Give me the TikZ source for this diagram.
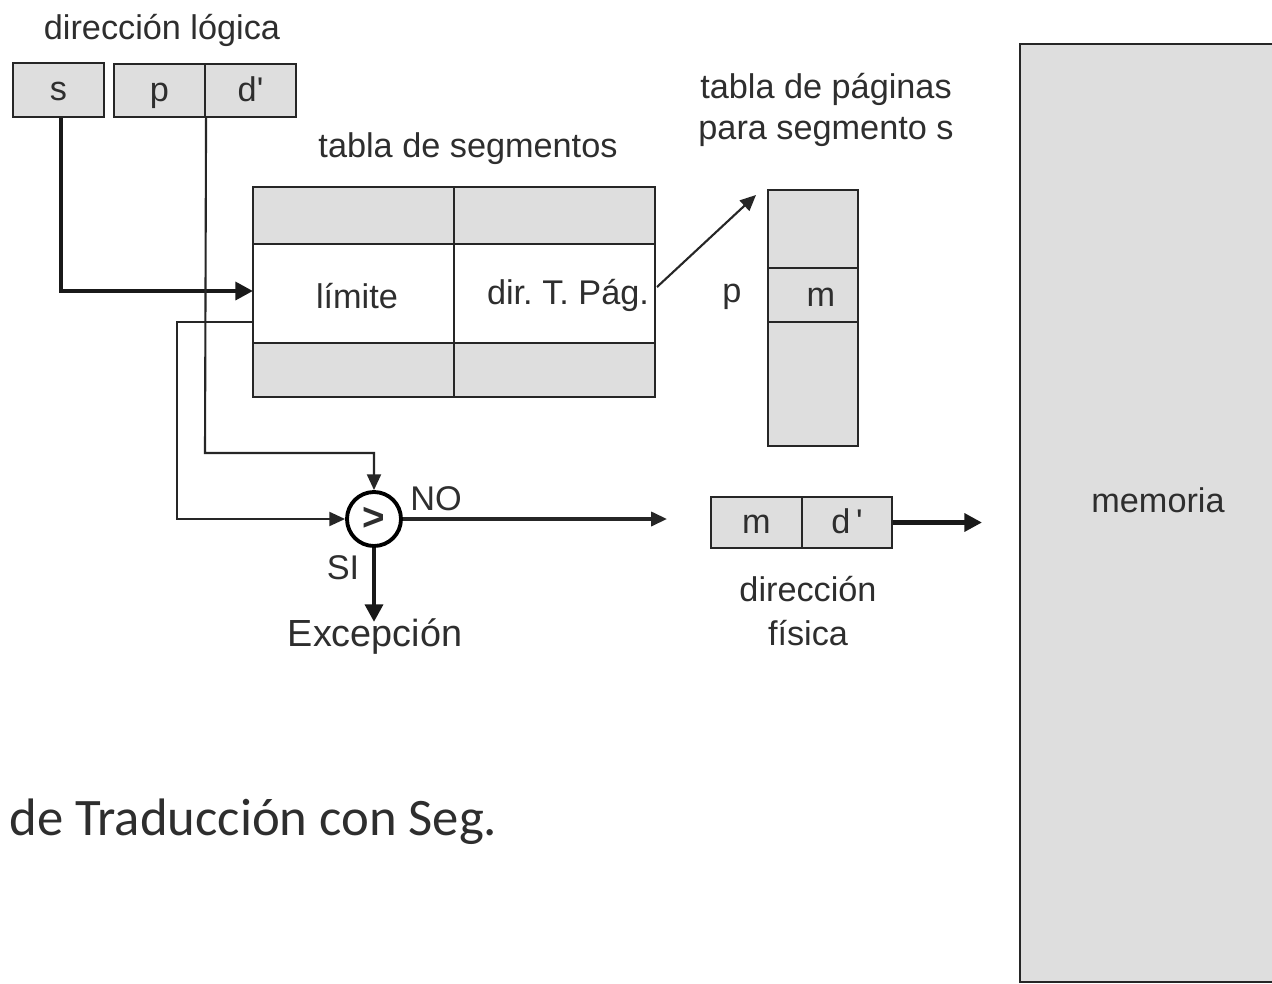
\documentclass[tikz,border=0pt]{standalone}
\usepackage{fontspec}
\setmainfont{Liberation Sans}[Ligatures=TeXOff]
\newfontfamily\calib{Carlito}
\usetikzlibrary{arrows.meta}
\definecolor{cellgray}{HTML}{DEDEDE}
\definecolor{txt}{HTML}{2E2E2E}
\tikzset{
  cell/.style={draw=black!85,line width=1.2pt,fill=cellgray,text=txt,inner sep=0pt,text height=12.6pt,text depth=0.6pt,font=\fontsize{19.5}{22}\selectfont},
  lbl/.style={text=txt,inner sep=0pt,font=\fontsize{19.5}{22}\selectfont,align=center},
  thin/.style={draw=black!85,line width=1.2pt,-{Triangle[length=9pt,width=8pt]}},
  thick/.style={draw=black!90,line width=2.6pt,-{Triangle[length=10pt,width=10pt]}},
}
\begin{document}
\frenchspacing
\begin{tikzpicture}[x=0.02cm,y=-0.02cm]
\clip (0,0) rectangle (1272,984);
\fill[white] (0,0) rectangle (1272,984);
% logical address
\node[lbl] (dl) at (162,30) {dirección lógica};
\node[cell,minimum width=91*0.02cm,minimum height=54*0.02cm] (s) at (58.5,90) {s};
\node[cell,minimum width=91*0.02cm,minimum height=53*0.02cm] (p) at (159.5,90.5) {p};
\node[cell,minimum width=91*0.02cm,minimum height=53*0.02cm] (d) at (250.5,90.5) {d'};
% segment table
\node[lbl] (tsl) at (468,149) {tabla de segmentos};
\draw[draw=black!85,line width=1.2pt,fill=cellgray] (253,187) rectangle (655,397);
\fill[white] (253,244) rectangle (655,343);
\draw[draw=black!85,line width=1.2pt] (253,187) rectangle (655,397);
\draw[draw=black!85,line width=1.2pt] (253,244) -- (655,244) (253,343) -- (655,343) (454,187) -- (454,397);
\node[lbl] (lim) at (357,296) {límite};
\node[lbl] (dtp) at (568,295) {dir. T. Pág.};
\coordinate (seg) at (253,291);
\coordinate (segL) at (253,322);
\coordinate (segR) at (657,287);
% page table
\node[lbl,align=center] (tpl) at (826,110) {tabla de páginas\\[1pt]para segmento s};
\draw[draw=black!85,line width=1.2pt,fill=cellgray] (768,190) rectangle (858,446);
\draw[draw=black!85,line width=1.2pt] (768,268) -- (858,268) (768,322) -- (858,322);
\node[lbl] (pm) at (821,297) {m};
\node[lbl] (pp) at (732,297) {p};
\coordinate (pt) at (756,195);
\draw[thin] (segR) -- (pt);
% comparator
\node[circle,draw=black,line width=2.2pt,minimum size=54*0.02cm,inner sep=0pt,text=txt,font=\fontsize{22}{22}\selectfont\bfseries] (cmp) at (374,519) {>};
\coordinate (a1) at (61,291);
\draw[thick] (s.south -| a1) -- (a1) -- (seg);
\draw[thin] (segL) -- (177,322) -- (177,519) -- (cmp.west);
\draw[thin] (p.south east) -- (205,453) -- (374,453) -- (cmp.north);
\node[lbl] (no) at (436,499) {NO};
\node[lbl] (si) at (343,568) {SI};
\node[lbl,font=\fontsize{21.5}{22}\selectfont] (exc) at (375,637) {Excepción};
\draw[thick] (cmp.south) -- (374,622);
% physical address
\node[cell,minimum width=91*0.02cm,minimum height=51*0.02cm] (fm) at (756.5,522.5) {m};
\node[cell,minimum width=90*0.02cm,minimum height=51*0.02cm] (fd) at (847,522.5) {d\,'};
\coordinate (na) at (667,519);
\draw[thin,line width=1.8pt] (cmp.east) -- (na);
\node[lbl] (df) at (808,611) {dirección\\[3pt]física};
\coordinate (mem) at (982,522.5);
\draw[thick] (fd.east) -- (mem);
% memory
\draw[draw=black!85,line width=1.2pt,fill=cellgray] (1020,44) rectangle (1290,982);
\node[lbl] (memt) at (1158,500) {memoria};
% caption
\node[anchor=west,inner sep=0pt,text=txt,font=\calib\fontsize{30}{32}\selectfont] (cap) at (9,822) {de Traducción con Seg.};
\end{tikzpicture}
\end{document}
